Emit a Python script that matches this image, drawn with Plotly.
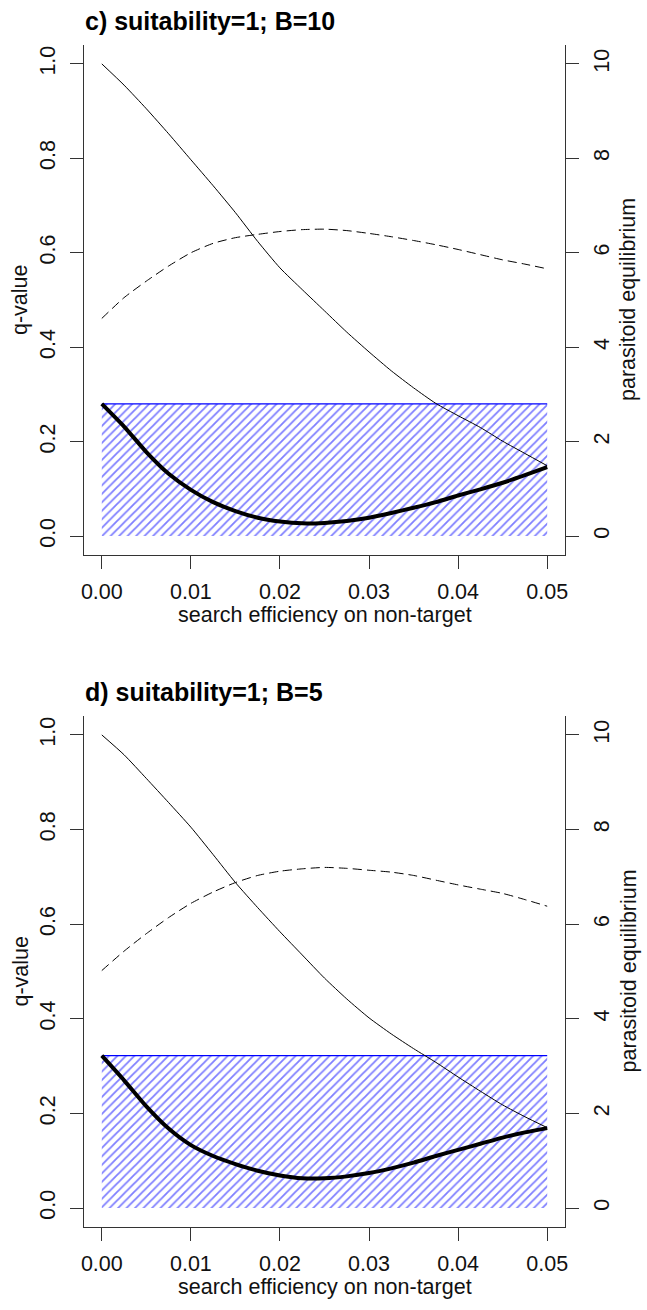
import plotly.graph_objects as go

# ---------------- data ----------------
x_vals = [0.0, 0.0025, 0.005, 0.0075, 0.01, 0.0125, 0.015, 0.0175, 0.02, 0.0225,
          0.025, 0.0275, 0.03, 0.0325, 0.035, 0.0375, 0.04, 0.0425, 0.045, 0.0475, 0.05]

titles = ["c) suitability=1; B=10", "d) suitability=1; B=5"]

# q-value threshold (hatched region top)
q_threshold = [0.28, 0.322]

# q-value curves (thick line)
q_c = [0.28, 0.232, 0.178, 0.132, 0.098, 0.072, 0.053, 0.039, 0.031, 0.027,
       0.028, 0.032, 0.039, 0.049, 0.060, 0.072, 0.086, 0.099, 0.113, 0.129, 0.146]
q_d = [0.322, 0.270, 0.215, 0.168, 0.133, 0.110, 0.093, 0.079, 0.069, 0.063,
       0.063, 0.067, 0.074, 0.084, 0.096, 0.110, 0.123, 0.136, 0.149, 0.160, 0.169]

# parasitoid equilibrium (thin solid line)
peq_c = [10.0, 9.55, 9.05, 8.52, 7.97, 7.42, 6.85, 6.24, 5.68, 5.22,
         4.77, 4.32, 3.90, 3.50, 3.14, 2.81, 2.55, 2.30, 2.01, 1.75, 1.49]
peq_d = [10.0, 9.58, 9.08, 8.57, 8.05, 7.47, 6.88, 6.35, 5.84, 5.35,
         4.86, 4.42, 4.02, 3.68, 3.37, 3.08, 2.77, 2.47, 2.18, 1.93, 1.70]

# second equilibrium (dashed line)
deq_c = [4.61, 5.05, 5.40, 5.72, 6.00, 6.20, 6.32, 6.39, 6.45, 6.49,
         6.50, 6.47, 6.41, 6.34, 6.26, 6.17, 6.07, 5.96, 5.85, 5.76, 5.66]
deq_d = [5.02, 5.43, 5.80, 6.14, 6.44, 6.68, 6.88, 7.03, 7.12, 7.17,
         7.20, 7.18, 7.14, 7.10, 7.03, 6.93, 6.83, 6.74, 6.65, 6.52, 6.38]

x_ticks = [0.0, 0.01, 0.02, 0.03, 0.04, 0.05]
x_ticktext = ["0.00", "0.01", "0.02", "0.03", "0.04", "0.05"]
q_ticks = [0.0, 0.2, 0.4, 0.6, 0.8, 1.0]
q_ticktext = ["0.0", "0.2", "0.4", "0.6", "0.8", "1.0"]
p_ticks = [0, 2, 4, 6, 8, 10]
p_ticktext = ["0", "2", "4", "6", "8", "10"]

# ---------------- layout geometry ----------------
W, H = 647, 1310
ML, MR, MT, MB = 84, 82, 45, 83
PH = H - MT - MB


def py2paper(py):
    return (H - MB - py) / PH


def px2paper(px):
    return (px - ML) / (W - ML - MR)


panel_px = [(45, 555), (716, 1227)]  # top, bottom pixel rows of each panel
FONT = "Liberation Sans, Arial, sans-serif"
FS = 21.5
TICKFONT = dict(family=FONT, size=FS, color="#111111")
AXCOL = "#333333"

fig = go.Figure()

axis_common = dict(showgrid=False, zeroline=False, showline=True, linecolor=AXCOL,
                   linewidth=1, ticks="outside", ticklen=13, tickcolor=AXCOL,
                   tickwidth=1, tickfont=TICKFONT)

series = [(q_c, peq_c, deq_c), (q_d, peq_d, deq_d)]
for i, (qv, pv, dv) in enumerate(series):
    xa = "x" if i == 0 else "x2"
    ya = "y" if i == 0 else "y3"
    ya2 = "y2" if i == 0 else "y4"
    thr = q_threshold[i]
    x0, x1 = x_vals[0], x_vals[-1]
    # hatched region
    fig.add_trace(go.Scatter(
        x=[x0, x1, x1, x0, x0], y=[0, 0, thr, thr, 0], mode="lines",
        fill="toself", fillcolor="rgba(0,0,0,0)", line=dict(width=0, color="blue"),
        fillpattern=dict(shape="/", fgcolor="#0000ff", bgcolor="rgba(0,0,0,0)",
                         size=6, solidity=0.3),
        xaxis=xa, yaxis=ya, showlegend=False, hoverinfo="skip"))
    fig.add_trace(go.Scatter(
        x=[x0, x1], y=[thr, thr], mode="lines", line=dict(color="#0000ff", width=1.3),
        xaxis=xa, yaxis=ya, showlegend=False))
    # parasitoid equilibrium (thin)
    fig.add_trace(go.Scatter(
        x=x_vals, y=pv, mode="lines", line=dict(color="black", width=1, shape="spline",
                                                smoothing=0.6),
        xaxis=xa, yaxis=ya2, showlegend=False))
    # dashed
    fig.add_trace(go.Scatter(
        x=x_vals, y=dv, mode="lines", line=dict(color="black", width=1, dash="9px,5px",
                                                shape="spline", smoothing=0.6),
        xaxis=xa, yaxis=ya2, showlegend=False))
    # q-value (thick)
    fig.add_trace(go.Scatter(
        x=x_vals, y=qv, mode="lines", line=dict(color="black", width=4, shape="spline",
                                                smoothing=0.6),
        xaxis=xa, yaxis=ya, showlegend=False))

    top_px, bot_px = panel_px[i]
    dom = [py2paper(bot_px), py2paper(top_px)]
    xr = [-0.002, 0.052]
    xkey = "xaxis" if i == 0 else "xaxis2"
    ykey = "yaxis" if i == 0 else "yaxis3"
    y2key = "yaxis2" if i == 0 else "yaxis4"
    fig.update_layout(**{
        xkey: dict(domain=[0, 1], range=xr, anchor=ya, tickvals=x_ticks,
                   ticktext=x_ticktext, ticklabelstandoff=4, **axis_common),
        ykey: dict(domain=dom, range=[-0.04, 1.04], anchor=xa, tickvals=q_ticks,
                   ticktext=q_ticktext, tickangle=-90, ticklabelstandoff=6, **axis_common),
        y2key: dict(domain=dom, range=[-0.4, 10.4], anchor=xa, overlaying=ya,
                    side="right", tickvals=p_ticks, ticktext=p_ticktext,
                    tickangle=-90, ticklabelstandoff=4, **axis_common),
    })

    # titles and axis labels
    mid_py = (top_px + bot_px) / 2
    fig.add_annotation(text="<b>" + titles[i] + "</b>", xref="paper", yref="paper",
                       x=px2paper(83), y=py2paper(top_px - 24), xanchor="left",
                       yanchor="middle", showarrow=False,
                       font=dict(family=FONT, size=25, color="black"))
    fig.add_annotation(text="q-value", xref="paper", yref="paper",
                       x=px2paper(20), y=py2paper(mid_py), textangle=-90,
                       xanchor="center", yanchor="middle", showarrow=False,
                       font=dict(family=FONT, size=FS, color="#111111"))
    fig.add_annotation(text="parasitoid equilibrium", xref="paper", yref="paper",
                       x=px2paper(628), y=py2paper(mid_py), textangle=-90,
                       xanchor="center", yanchor="middle", showarrow=False,
                       font=dict(family=FONT, size=FS, color="#111111"))
    fig.add_annotation(text="search efficiency on non-target", xref="paper",
                       yref="paper", x=px2paper((84 + 565) / 2),
                       y=py2paper(bot_px + 60), xanchor="center", yanchor="middle",
                       showarrow=False, font=dict(family=FONT, size=FS, color="#111111"))

fig.update_layout(width=W, height=H, margin=dict(l=ML, r=MR, t=MT, b=MB),
                  paper_bgcolor="white", plot_bgcolor="white", showlegend=False)

fig.write_html("out.html")
